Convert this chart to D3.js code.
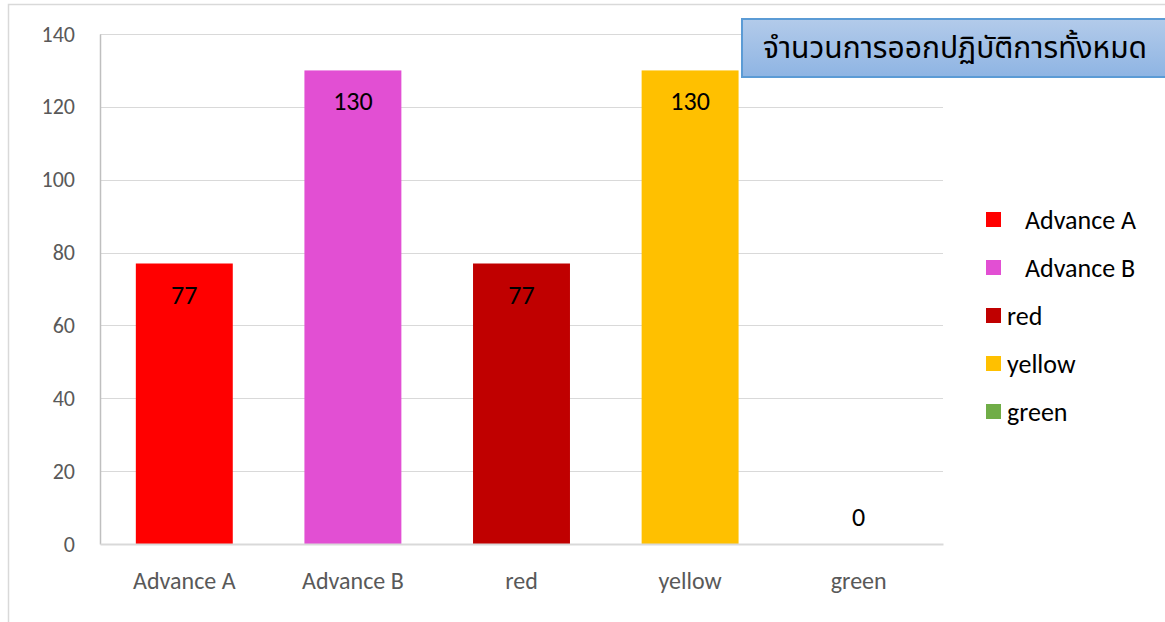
<!DOCTYPE html>
<html>
<head>
<meta charset="utf-8">
<script src="https://cdn.jsdelivr.net/npm/d3@7"></script>
<style>
  body { margin: 0; background: #fff; }
  svg { display: block; }
</style>
</head>
<body>
<svg id="chart"></svg>
<script>
// chart data
var categories = ["Advance A", "Advance B", "red", "yellow", "green"];
var values = [77, 130, 77, 130, 0];
var colors = ["#ff0000", "#e24fd3", "#c00000", "#ffc000", "#70ad47"];
var legendLabels = ["Advance A", "Advance B", "red", "yellow", "green"];
var yTicks = [0, 20, 40, 60, 80, 100, 120, 140];
var title = "จำนวนการออกปฏิบัติการทั้งหมด";

var width = 1165, height = 622;
var svg = d3.select("#chart").attr("width", width).attr("height", height);
var font = "Calibri, Carlito, 'Open Sans', 'Noto Sans', sans-serif";

// outer frame
svg.append("rect")
  .attr("x", 8.5).attr("y", 4.5)
  .attr("width", width + 10).attr("height", height + 10)
  .style("fill", "none").style("stroke", "#d9d9d9").style("stroke-width", 1.5);

var plot = {left: 100, right: 943, top: 34, bottom: 544};

var x = d3.scaleBand()
  .domain(categories)
  .range([plot.left, plot.right])
  .paddingInner(0.425)
  .paddingOuter(0.2125);

var y = d3.scaleLinear()
  .domain([0, 140])
  .range([plot.bottom, plot.top]);

// gridlines
svg.append("g").selectAll("line")
  .data(yTicks.filter(function(d){ return d > 0; }))
  .enter().append("line")
  .attr("x1", plot.left).attr("x2", plot.right)
  .attr("y1", function(d){ return Math.round(y(d)) + 0.5; })
  .attr("y2", function(d){ return Math.round(y(d)) + 0.5; })
  .style("stroke", "#d9d9d9").style("stroke-width", 1);

// y axis
var yAxis = svg.append("g")
  .attr("transform", "translate(" + plot.left + ",0)")
  .call(d3.axisLeft(y).tickValues(yTicks).tickSize(0).tickPadding(25));
yAxis.select(".domain").style("stroke", "#bfbfbf").style("stroke-width", 1.5);
yAxis.selectAll("text")
  .style("font-family", font).style("font-size", "22px").style("fill", "#595959");

// bars
svg.append("g").selectAll("rect")
  .data(values)
  .enter().append("rect")
  .attr("x", function(d, i){ return x(categories[i]); })
  .attr("y", function(d){ return y(d); })
  .attr("width", x.bandwidth())
  .attr("height", function(d){ return y(0) - y(d); })
  .style("fill", function(d, i){ return colors[i]; });

// x axis
var xAxis = svg.append("g")
  .attr("transform", "translate(0," + plot.bottom + ")")
  .call(d3.axisBottom(x).tickSize(0).tickPadding(28));
xAxis.select(".domain").style("stroke", "#d9d9d9").style("stroke-width", 2);
xAxis.selectAll("text")
  .style("font-family", font).style("font-size", "24px").style("fill", "#595959");

// value labels
svg.append("g").selectAll("text")
  .data(values)
  .enter().append("text")
  .attr("x", function(d, i){ return x(categories[i]) + x.bandwidth() / 2; })
  .attr("y", function(d){ return d > 0 ? y(d) + 40 : y(d) - 18; })
  .attr("text-anchor", "middle")
  .style("font-family", font).style("font-size", "26px").style("fill", "#000")
  .text(function(d){ return d; });

// title box
var grad = svg.append("defs").append("linearGradient")
  .attr("id", "tg").attr("x1", 0).attr("y1", 0).attr("x2", 0).attr("y2", 1);
grad.append("stop").attr("offset", "0%").attr("stop-color", "#b3cbea");
grad.append("stop").attr("offset", "100%").attr("stop-color", "#8eb4e3");
svg.append("rect")
  .attr("x", 742).attr("y", 19)
  .attr("width", 440).attr("height", 58)
  .style("fill", "url(#tg)").style("stroke", "#5b9bd5").style("stroke-width", 2);
svg.append("text")
  .attr("x", 955).attr("y", 58)
  .attr("text-anchor", "middle")
  .style("font-family", "Tahoma, 'Noto Sans Thai', 'Noto Sans', sans-serif")
  .style("font-size", "30px").style("fill", "#000")
  .text(title);

// legend
var legend = svg.selectAll("g.legend")
  .data(categories)
  .enter().append("g")
  .attr("class", "legend")
  .attr("transform", function(d, i){ return "translate(986," + (212 + i * 48) + ")"; });
legend.append("rect")
  .attr("width", 15).attr("height", 15)
  .style("fill", function(d, i){ return colors[i]; });
legend.append("text")
  .attr("x", function(d, i){ return i < 2 ? 39 : 21; })
  .attr("y", 16.5)
  .style("font-family", font).style("font-size", "26px").style("fill", "#000")
  .text(function(d, i){ return legendLabels[i]; });
</script>
</body>
</html>
